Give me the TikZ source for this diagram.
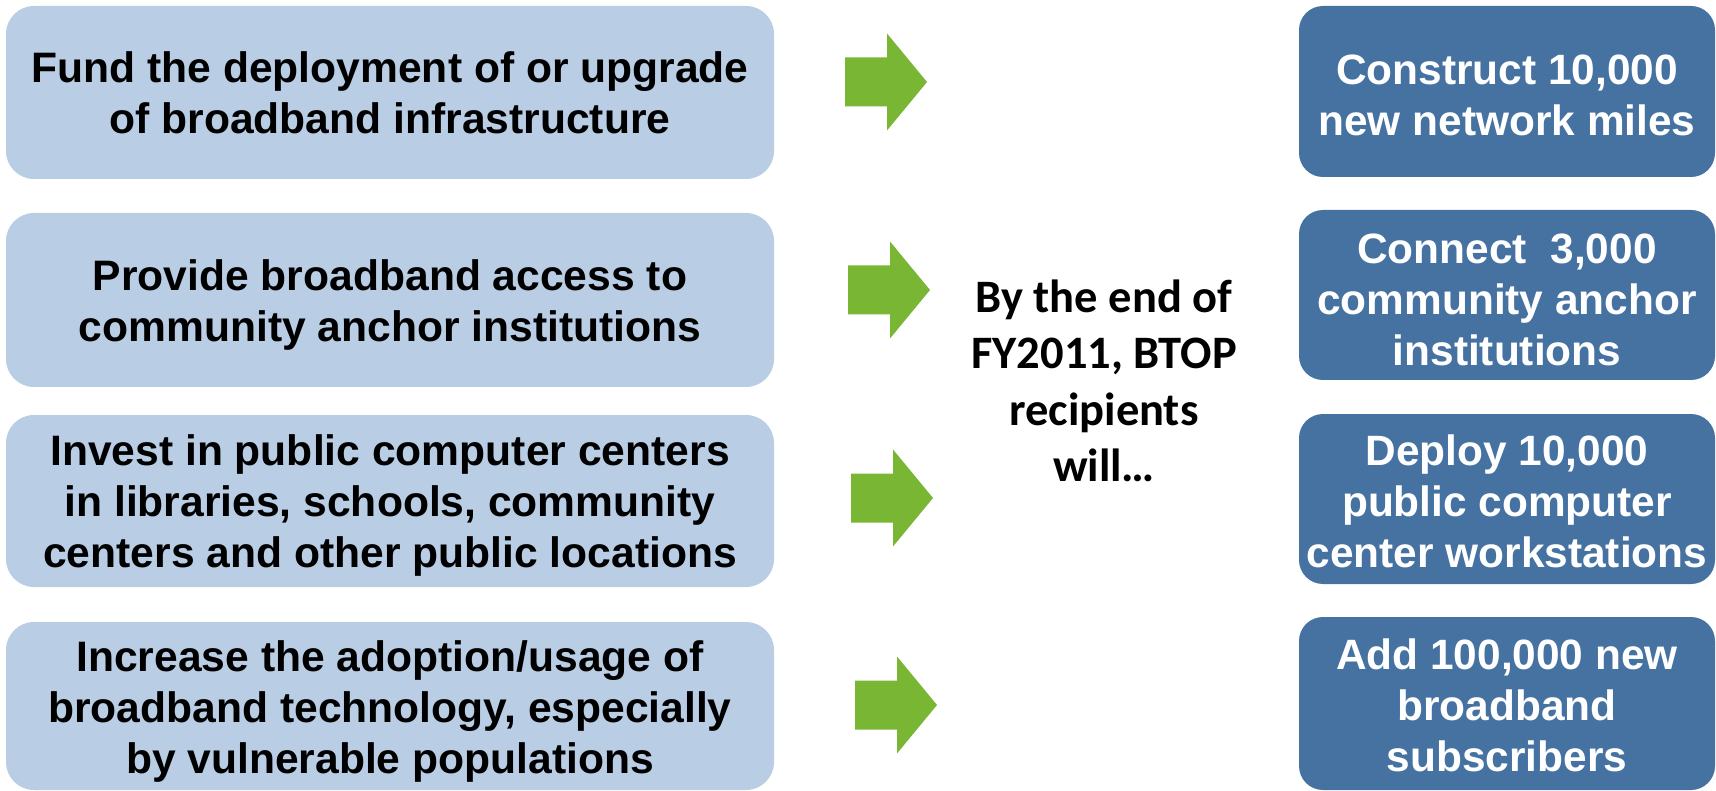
\documentclass[tikz,border=0pt]{standalone}
\usepackage{fontspec}
\setmainfont{Liberation Sans}
\newfontfamily\calib{Carlito}
\definecolor{lightbox}{HTML}{B9CDE5}
\definecolor{darkbox}{HTML}{4672A2}
\definecolor{arrowgreen}{HTML}{78B634}
\newcommand{\grarrow}[3]{%
  \coordinate (#1) at (#2,#3);
  \fill[arrowgreen] (#1) ++(0,-24.5) -- ++(42,0) -- ++(0,-24) -- ++(40,48.5)
    -- ++(-40,48.5) -- ++(0,-24) -- ++(-42,0) -- cycle;}
\begin{document}
\begin{tikzpicture}[x=1pt,y=-1pt,
  goalbox/.style={rounded corners=28pt, fill=lightbox, draw=none,
    minimum width=768pt, inner sep=0pt},
  goaltext/.style={inner sep=0pt, align=center, text=black,
    font=\fontsize{42.6}{51}\selectfont\bfseries},
  targetbox/.style={rounded corners=24pt, fill=darkbox, draw=none,
    minimum width=416pt, inner sep=0pt},
  targettext/.style={inner sep=0pt, align=center, text=white,
    font=\fontsize{42.4}{51}\selectfont\bfseries},
  midtext/.style={align=center, inner sep=0pt,
    font=\calib\fontsize{46.5}{56.5}\selectfont\bfseries}]
\useasboundingbox (0,0) rectangle (1716,791);
\fill[white] (0,0) rectangle (1716,791);
% left boxes
\node[goalbox, minimum height=173pt] (g1) at (390,92.5) {};
\node[goaltext] (g1t) at (g1.center)
  {Fund the deployment of or upgrade\\of broadband infrastructure};
\node[goalbox, minimum height=174pt] (g2) at (390,300) {};
\node[goaltext, yshift=-5pt] (g2t) at (g2.center)
  {Provide broadband access to\\community anchor institutions};
\node[goalbox, minimum height=172pt] (g3) at (390,501) {};
\node[goaltext, yshift=-4pt] (g3t) at (g3.center)
  {Invest in public computer centers\\in libraries, schools, community\\centers and other public locations};
\node[goalbox, minimum height=168pt] (g4) at (390,706) {};
\node[goaltext, yshift=-5pt] (g4t) at (g4.center)
  {Increase the adoption/usage of\\broadband technology, especially\\by vulnerable populations};
% arrows
\grarrow{a1}{845}{82}
\grarrow{a2}{848}{290}
\grarrow{a3}{851}{498}
\grarrow{a4}{855}{705}
% middle text
\node[midtext] (mid) at (1104,381)
  {By the end of\\FY2011, BTOP\\recipients\\will…};
% right boxes
\node[targetbox, minimum height=171pt] (t1) at (1507,91.5) {};
\node[targettext, yshift=-4pt] (t1t) at (t1.center)
  {Construct 10,000\\new network miles};
\node[targetbox, minimum height=170pt] (t2) at (1507,295) {};
\node[targettext, yshift=-5pt] (t2t) at (t2.center)
  {Connect\ \ 3,000\\community anchor\\institutions};
\node[targetbox, minimum height=170pt] (t3) at (1507,499) {};
\node[targettext, yshift=-2pt] (t3t) at (t3.center)
  {Deploy 10,000\\public computer\\center workstations};
\node[targetbox, minimum height=173pt] (t4) at (1507,703.5) {};
\node[targettext, yshift=-2pt] (t4t) at (t4.center)
  {Add 100,000 new\\broadband\\subscribers};
\end{tikzpicture}
\end{document}
